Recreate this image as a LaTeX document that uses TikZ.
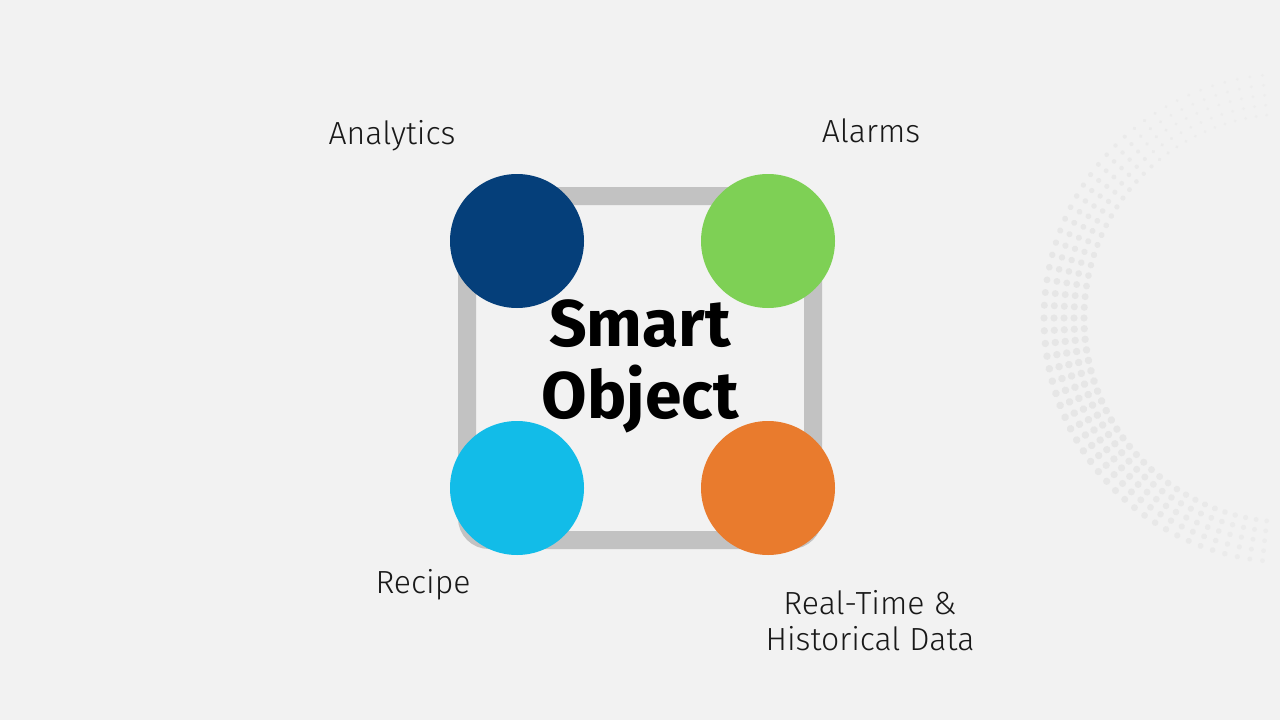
\documentclass[tikz,border=0pt]{standalone}
\usepackage{fontspec}
\setmainfont{Fira Sans}
\newfontfamily\labelfont{Fira Sans Light}
\definecolor{bg}{HTML}{F2F2F2}
\definecolor{frame}{HTML}{C2C2C2}
\definecolor{navy}{HTML}{053F7A}
\definecolor{leaf}{HTML}{7ED055}
\definecolor{sky}{HTML}{12BCE8}
\definecolor{amber}{HTML}{E97B2D}
\definecolor{dots}{HTML}{E6E6E6}
\begin{document}
\begin{tikzpicture}[x=1pt,y=-1pt,
  blob/.style={circle,minimum size=134pt,inner sep=0pt},
  tag/.style={font=\labelfont\fontsize{32}{36}\selectfont,text=black!90,align=center}]
\fill[bg] (0,0) rectangle (1280,720);
\useasboundingbox (0,0) rectangle (1280,720);
% faint halftone arc on the right
\begin{scope}
\clip (0,0) rectangle (1280,720);
\foreach \a in {96,99,...,264}{
  \foreach \r in {204,214,...,250}{
    \pgfmathsetmacro{\s}{1.6+2.2*max(0,sin((\a-120)*1.1))}
    \pgfmathsetmacro{\o}{0.35+0.65*max(0,sin((\a-110)*1.1))}
    \fill[dots,fill opacity=\o,rotate around={\a:(1288,318)}] ({1288+\r},318) circle (\s);
  }
}
\end{scope}
% rounded frame
\draw[frame,line width=18pt,rounded corners=22pt] (467,196) rectangle (813,540);
% corner circles
\node[blob,fill=navy]  (an) at (517,241) {};
\node[blob,fill=leaf]  (al) at (768,241) {};
\node[blob,fill=sky]   (re) at (517,488) {};
\node[blob,fill=amber] (rt) at (768,488) {};
% centre title
\node[font=\bfseries\fontsize{66}{72}\selectfont,align=center] (so) at (640,366) {Smart\\Object};
% labels
\node[tag] (tan) at (392,136) {Analytics};
\node[tag] (tal) at (871,131) {Alarms};
\node[tag] (tre) at (423,585) {Recipe};
\node[tag] (trt) at (870,621) {Real-Time \&\\Historical Data};
\end{tikzpicture}
\end{document}
